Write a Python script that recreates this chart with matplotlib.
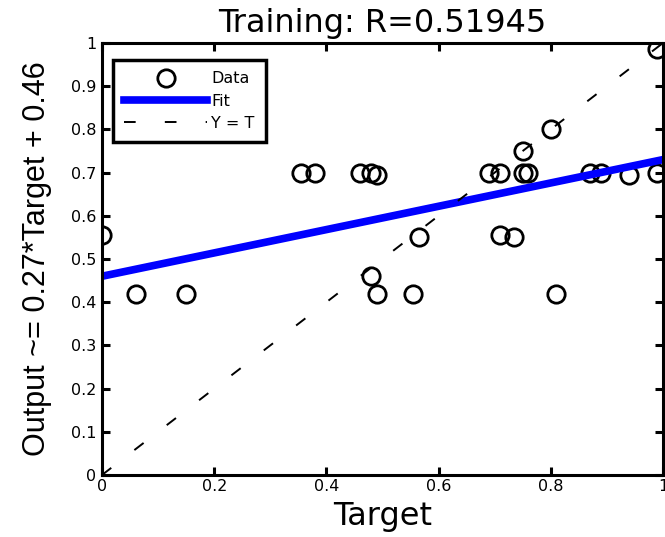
import numpy as np
import matplotlib
matplotlib.use('Agg')
from matplotlib import pyplot as plt

target = [0.0, 0.06, 0.15, 0.355, 0.38, 0.46, 0.48, 0.49, 0.69, 0.71, 0.75, 0.76,
          0.75, 0.80, 0.87, 0.89, 0.94, 0.99, 0.99, 0.565, 0.71, 0.735, 0.48, 0.49,
          0.555, 0.81]
output = [0.555, 0.42, 0.42, 0.70, 0.70, 0.70, 0.70, 0.695, 0.70, 0.70, 0.70, 0.70,
          0.75, 0.80, 0.70, 0.70, 0.695, 0.70, 0.985, 0.55, 0.555, 0.55, 0.46, 0.42,
          0.42, 0.42]
fitSlope = 0.27
fitOffset = 0.46
rValue = 0.51945

plt.rcParams['font.family'] = ['DejaVu Sans']

fig = plt.figure(figsize=(6.65, 5.37), dpi=100)
ax = fig.add_axes([0.1534, 0.1155, 0.8436, 0.8045])

ax.plot(target, output, 'o', mfc='none', mec='black', mew=2, ms=12.5, label='Data')
xs = np.array([0.0, 1.0])
ax.plot(xs, fitSlope * xs + fitOffset, color='#0000ff', lw=5.5, label='Fit')
ax.plot(xs, xs, color='black', lw=1.4, ls=(0, (6, 15)), label='Y = T')

ax.set_xlim(0, 1)
ax.set_ylim(0, 1)
ax.set_xticks(np.arange(0, 1.01, 0.2))
ax.set_xticklabels(['0', '0.2', '0.4', '0.6', '0.8', '1'])
ax.set_yticks(np.arange(0, 1.01, 0.1))
ax.set_yticklabels(['0', '0.1', '0.2', '0.3', '0.4', '0.5', '0.6', '0.7', '0.8', '0.9', '1'])
ax.tick_params(direction='in', top=True, right=True, length=6, width=2.2, labelsize=11.5)
ax.tick_params(axis='x', pad=3)
ax.tick_params(axis='y', pad=4)
for s in ax.spines.values():
    s.set_linewidth(2.2)

ax.set_title('Training: R=%.5f' % rValue, fontsize=23, pad=8)
ax.set_xlabel('Target', fontsize=23, labelpad=5)
ax.set_ylabel('Output ~= %.2g*Target + %.2g' % (fitSlope, fitOffset),
              family=['Liberation Sans'], fontsize=22, labelpad=14)

leg = ax.legend(loc='upper left', fontsize=11.5, frameon=True, fancybox=False, framealpha=1,
                edgecolor='black', handlelength=5.2, handletextpad=0.25, borderpad=0.7,
                labelspacing=0.45, borderaxespad=0, bbox_to_anchor=(0.02, 0.96))
leg.get_frame().set_linewidth(2.5)

fig.savefig('out.png', dpi=100)
